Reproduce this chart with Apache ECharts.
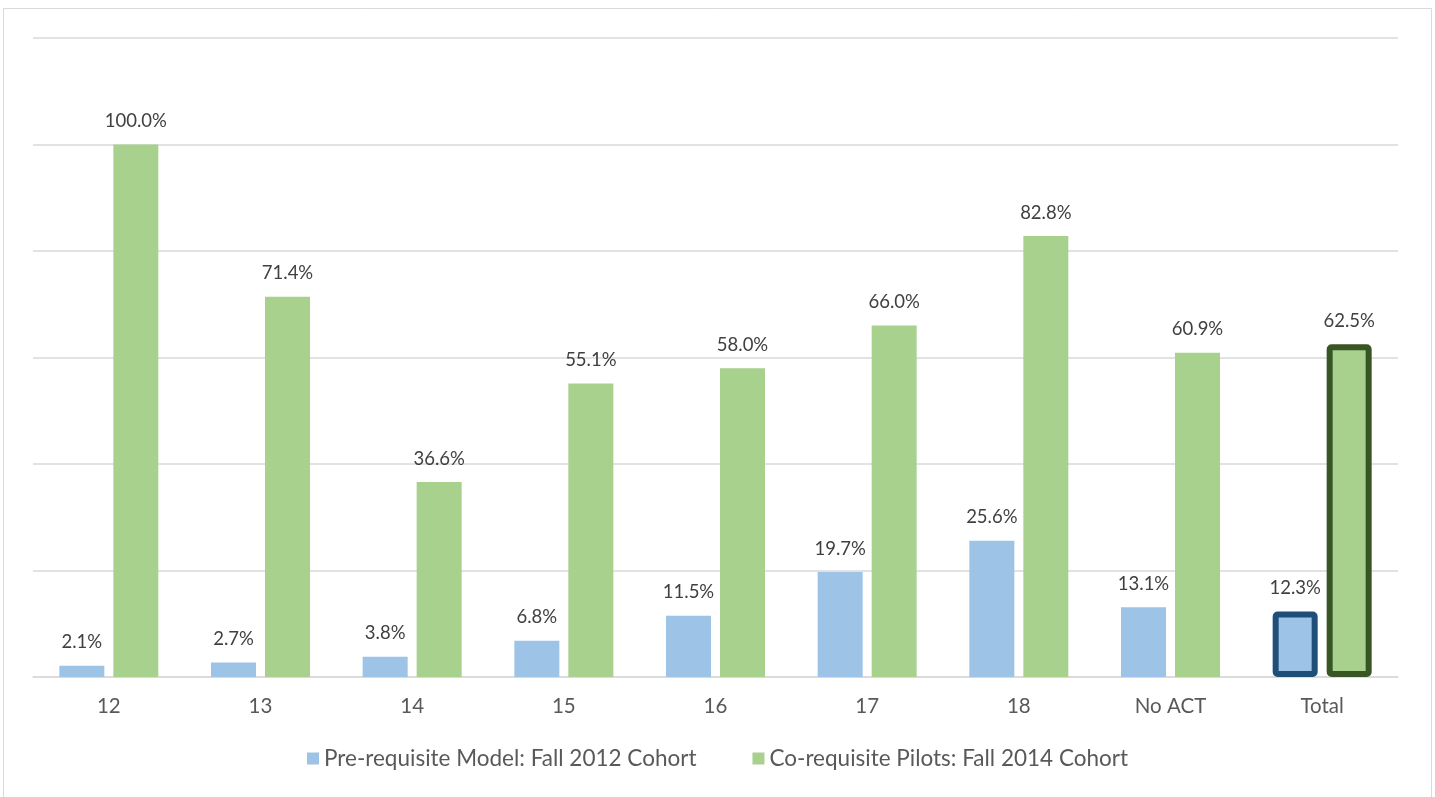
<!DOCTYPE html>
<html><head><meta charset="utf-8">
<script src="https://cdn.jsdelivr.net/npm/echarts@6/dist/echarts.min.js"></script>
<style>html,body{margin:0;padding:0;background:#fff}#c{width:1435px;height:797px}</style>
</head><body><div id="c"></div>
<script>
const categories = ['12','13','14','15','16','17','18','No ACT','Total'];
const preValues = [2.1, 2.7, 3.8, 6.8, 11.5, 19.7, 25.6, 13.1, 12.3];
const coValues = [100.0, 71.4, 36.6, 55.1, 58.0, 66.0, 82.8, 60.9, 62.5];
const seriesNames = ['Pre-requisite Model: Fall 2012 Cohort', 'Co-requisite Pilots: Fall 2014 Cohort'];

const font = 'Lato, "Open Sans", sans-serif';
const chart = echarts.init(document.getElementById('c'));
function mk(vals, highlightColor) {
  return vals.map((v, i) => i === vals.length - 1
    ? {value: v, itemStyle: {borderColor: highlightColor, borderWidth: 6, borderRadius: 2}}
    : v);
}
const lbl = {show: true, position: 'top', distance: 14, formatter: p => p.value.toFixed(1) + '%', fontFamily: font, fontSize: 18.5, color: '#404040'};
chart.setOption({
  animation: false,
  graphic: [{type: 'rect', shape: {x: 3.5, y: 8.5, width: 1428, height: 800}, style: {fill: 'none', stroke: '#d9d9d9', lineWidth: 1}}],
  grid: {left: 33, right: 37, top: 38, bottom: 120},
  legend: {
    bottom: 22, left: 'center', itemWidth: 12, itemHeight: 12, itemGap: 56,
    icon: 'rect',
    textStyle: {fontFamily: font, fontSize: 22.5, color: '#595959'},
    data: seriesNames
  },
  xAxis: {
    type: 'category', data: categories,
    axisLine: {lineStyle: {color: '#d9d9d9', width: 1.5}},
    axisTick: {show: false},
    axisLabel: {fontFamily: font, fontSize: 20.5, color: '#595959', margin: 19}
  },
  yAxis: {
    type: 'value', min: 0, max: 120, interval: 20,
    axisLabel: {show: false}, axisLine: {show: false}, axisTick: {show: false},
    splitLine: {lineStyle: {color: '#d9d9d9', width: 1.5}}
  },
  series: [
    {name: seriesNames[0], type: 'bar', data: mk(preValues, '#1F4E79'), barWidth: 45, barGap: '20%',
     itemStyle: {color: '#9DC3E6'}, label: lbl},
    {name: seriesNames[1], type: 'bar', data: mk(coValues, '#375623'), barWidth: 45,
     itemStyle: {color: '#A9D18E'}, label: lbl}
  ]
});
</script></body></html>
